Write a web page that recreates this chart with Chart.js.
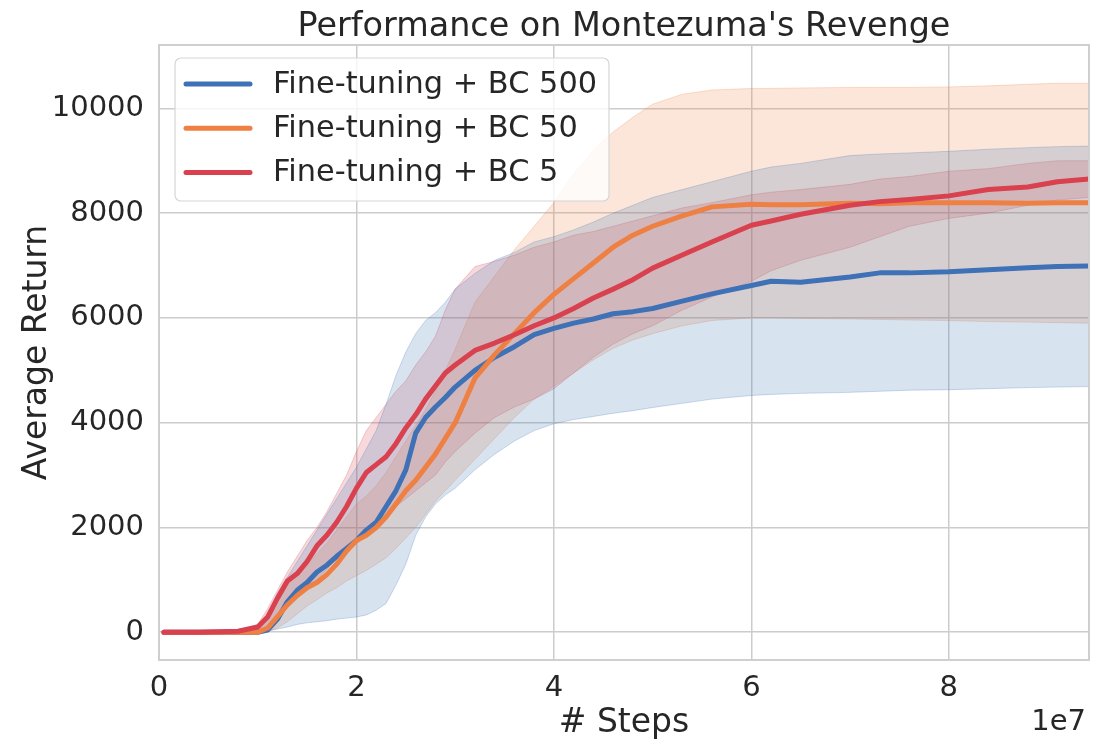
<!DOCTYPE html>
<html>
<head>
<meta charset="utf-8">
<script src="https://cdn.jsdelivr.net/npm/chart.js@4.4.1/dist/chart.umd.min.js"></script>
<style>
  html, body { margin: 0; padding: 0; background: #ffffff; }
  #wrap { width: 1098px; height: 751px; }
</style>
</head>
<body>
<div id="wrap"><canvas id="myChart" width="1098" height="751"></canvas></div>
<script>
// steps, in units of 1e7
const steps = [0.05, 0.4, 0.8, 1.0, 1.1, 1.2, 1.3, 1.4, 1.5, 1.6, 1.7, 1.8, 1.9, 2.0, 2.1, 2.2, 2.3, 2.4, 2.5, 2.6, 2.7, 2.8, 2.9, 3.0,
  3.2, 3.4, 3.6, 3.8, 4.0, 4.2, 4.4, 4.6, 4.8, 5.0, 5.3, 5.6, 6.0, 6.2, 6.5, 7.0, 7.3, 7.6, 8.0, 8.4, 8.8, 9.1, 9.42]

const labels = ['Fine-tuning + BC 500', 'Fine-tuning + BC 50', 'Fine-tuning + BC 5']

// Fine-tuning + BC 500
const bc500Mean = [0, 0, 0, 0, 40, 250, 580, 800, 950, 1150, 1280, 1450, 1600, 1750, 1950, 2100, 2400, 2700, 3100, 3800, 4100, 4300, 4480, 4680,
  5000, 5250, 5450, 5680, 5800, 5900, 5980, 6080, 6120, 6180, 6320, 6460, 6620, 6700, 6680, 6780, 6860, 6860, 6880, 6920, 6960, 6980, 6990]
const bc500Low = [0, 0, 0, 0, 20, 60, 100, 150, 180, 200, 220, 250, 270, 290, 330, 420, 550, 900, 1300, 1850, 2200, 2450, 2620, 2750,
  3100, 3400, 3650, 3850, 3980, 4060, 4120, 4180, 4230, 4290, 4370, 4450, 4520, 4540, 4560, 4580, 4600, 4620, 4630, 4650, 4670, 4680, 4690]
const bc500High = [0, 0, 0, 50, 300, 750, 1050, 1350, 1650, 1950, 2250, 2550, 2850, 3150, 3500, 3850, 4350, 4900, 5350, 5700, 5950, 6100, 6300, 6550,
  6850, 7100, 7250, 7450, 7550, 7680, 7830, 8000, 8150, 8300, 8450, 8600, 8800, 8880, 8950, 9100, 9130, 9150, 9180, 9220, 9250, 9270, 9280]

// Fine-tuning + BC 50
const bc50Mean = [0, 0, 0, 0, 80, 300, 520, 700, 850, 950, 1100, 1300, 1550, 1750, 1850, 2000, 2200, 2450, 2700, 2900, 3150, 3400, 3700, 4000,
  4850, 5300, 5700, 6100, 6450, 6750, 7050, 7350, 7580, 7750, 7950, 8120, 8170, 8160, 8160, 8190, 8180, 8200, 8200, 8200, 8190, 8200, 8200]
const bc50Low = [0, 0, 0, 0, 20, 80, 200, 350, 500, 620, 750, 850, 980, 1080, 1180, 1300, 1420, 1600, 1800, 2000, 2250, 2500, 2700, 2900,
  3300, 3700, 4100, 4450, 4700, 4950, 5200, 5420, 5580, 5700, 5850, 5950, 6000, 6000, 5990, 5980, 5970, 5960, 5950, 5930, 5920, 5910, 5900]
const bc50High = [0, 0, 0, 50, 250, 600, 900, 1100, 1300, 1500, 1700, 1950, 2200, 2450, 2600, 2800, 3050, 3350, 3650, 3950, 4250, 4600, 5000, 5400,
  6300, 6800, 7300, 7750, 8200, 8750, 9200, 9550, 9830, 10080, 10270, 10350, 10380, 10380, 10390, 10400, 10400, 10400, 10410, 10430, 10460, 10480, 10480]

// Fine-tuning + BC 5
const bc5Mean = [0, 0, 20, 100, 290, 650, 980, 1120, 1350, 1650, 1850, 2100, 2400, 2750, 3050, 3200, 3350, 3600, 3900, 4150, 4450, 4700, 4950, 5100,
  5380, 5520, 5680, 5850, 6000, 6180, 6380, 6550, 6730, 6950, 7200, 7450, 7770, 7850, 7980, 8150, 8220, 8260, 8330, 8450, 8500, 8600, 8650]
const bc5Low = [0, 0, 0, 0, 100, 350, 550, 700, 850, 1000, 1200, 1400, 1600, 1800, 1950, 2100, 2250, 2400, 2550, 2700, 2850, 3000, 3250, 3450,
  3800, 4100, 4300, 4450, 4650, 4950, 5250, 5500, 5700, 5850, 6150, 6400, 6700, 6900, 7100, 7350, 7550, 7750, 7900, 8000, 8150, 8250, 8300]
const bc5High = [0, 0, 40, 150, 450, 800, 1150, 1450, 1750, 2000, 2300, 2650, 3000, 3450, 3850, 4100, 4350, 4600, 4800, 5100, 5350, 5650, 6150, 6550,
  6980, 7080, 7200, 7350, 7450, 7580, 7650, 7750, 7850, 7950, 8100, 8200, 8350, 8400, 8450, 8550, 8650, 8700, 8800, 8850, 8950, 9000, 9000]

const xTicks = [0, 2, 4, 6, 8]
const yTicks = [0, 2000, 4000, 6000, 8000, 10000]

const colors = ['#3e71b6', '#ee8043', '#d9414f']
const rgbs = ['62,113,182', '238,128,67', '217,65,79']

const means = [bc500Mean, bc50Mean, bc5Mean]
const lows = [bc500Low, bc50Low, bc5Low]
const highs = [bc500High, bc50High, bc5High]

const pts = arr => arr.map((v, i) => ({ x: steps[i], y: v }))

const datasets = []
for (let s = 0; s < 3; s++) {
  datasets.push({
    label: labels[s] + ' low',
    data: pts(lows[s]),
    borderColor: 'rgba(' + rgbs[s] + ',0.25)',
    borderWidth: 1,
    pointRadius: 0,
    fill: false,
    order: 10 + s,
    band: true
  })
  datasets.push({
    label: labels[s] + ' high',
    data: pts(highs[s]),
    borderColor: 'rgba(' + rgbs[s] + ',0.25)',
    backgroundColor: 'rgba(' + rgbs[s] + ',0.2)',
    borderWidth: 1,
    pointRadius: 0,
    fill: '-1',
    order: 10 + s,
    band: true
  })
}
for (let s = 0; s < 3; s++) {
  datasets.push({
    label: labels[s],
    data: pts(means[s]),
    borderColor: colors[s],
    borderWidth: 5,
    borderJoinStyle: 'round',
    borderCapStyle: 'round',
    pointRadius: 0,
    fill: false,
    order: 3 - s
  })
}

const FONT = 'DejaVu Sans'
const TXT = '#262626'

const frameAndText = {
  id: 'frameAndText',
  afterDatasetsDraw(chart) {
    const { ctx, chartArea } = chart
    ctx.save()
    // axes frame
    ctx.strokeStyle = '#cfcfcf'
    ctx.lineWidth = 2
    ctx.strokeRect(chartArea.left, chartArea.top, chartArea.right - chartArea.left, chartArea.bottom - chartArea.top)

    // legend box
    const lx = chartArea.left + 16, ly = chartArea.top + 13, lw = 434, lh = 143
    ctx.beginPath()
    ctx.roundRect(lx, ly, lw, lh, 6)
    ctx.fillStyle = 'rgba(255,255,255,0.8)'
    ctx.fill()
    ctx.strokeStyle = '#d6d6d6'
    ctx.lineWidth = 1.2
    ctx.stroke()
    const lines = chart.data.datasets.filter(d => !d.band)
    ctx.font = '30.4px "' + FONT + '"'
    ctx.textBaseline = 'middle'
    ctx.textAlign = 'left'
    lines.forEach((d, i) => {
      const y = ly + 26 + i * 44.3
      ctx.beginPath()
      ctx.moveTo(lx + 11, y)
      ctx.lineTo(lx + 75, y)
      ctx.strokeStyle = d.borderColor
      ctx.lineWidth = 5
      ctx.lineCap = 'round'
      ctx.stroke()
      ctx.fillStyle = TXT
      ctx.fillText(d.label, lx + 98, y + 1)
    })

    // title and offset label
    ctx.fillStyle = TXT
    ctx.textAlign = 'center'
    ctx.textBaseline = 'alphabetic'
    ctx.font = '33.4px "' + FONT + '"'
    ctx.fillText("Performance on Montezuma's Revenge", (chartArea.left + chartArea.right) / 2, chartArea.top - 9)
    ctx.textAlign = 'right'
    ctx.font = '29px "' + FONT + '"'
    ctx.fillText('1e7', chartArea.right - 3, chartArea.bottom + 70)
    ctx.restore()
  }
}

const ctx = document.getElementById('myChart')

new Chart(ctx, {
  type: 'line',
  data: { datasets: datasets },
  options: {
    responsive: false,
    animation: false,
    devicePixelRatio: 1,
    layout: { padding: { top: 45, right: 9, left: 0, bottom: 0 } },
    plugins: {
      legend: { display: false },
      title: { display: false },
      tooltip: { enabled: false }
    },
    scales: {
      x: {
        type: 'linear',
        min: 0,
        max: 9.42,
        afterBuildTicks: s => { s.ticks = xTicks.map(v => ({ value: v })) },
        afterFit: s => { s.height = 91 },
        grid: { color: '#cccccc', lineWidth: 1.5, drawTicks: false },
        border: { display: false },
        ticks: { color: TXT, font: { family: FONT, size: 29 }, padding: 11, maxRotation: 0,
          callback: v => String(v) },
        title: { display: true, text: '# Steps', color: TXT, font: { family: FONT, size: 33 }, padding: { top: 0, bottom: 8 } }
      },
      y: {
        min: -530,
        max: 11210,
        afterBuildTicks: s => { s.ticks = yTicks.map(v => ({ value: v })) },
        afterFit: s => { s.width = 159 },
        grid: { color: '#cccccc', lineWidth: 1.5, drawTicks: false },
        border: { display: false },
        ticks: { color: TXT, font: { family: FONT, size: 29 }, padding: 15,
          callback: v => String(v) },
        title: { display: true, text: 'Average Return', color: TXT, font: { family: FONT, size: 33 }, padding: { top: 18, bottom: 0 } }
      }
    }
  },
  plugins: [frameAndText]
})
</script>
</body>
</html>
